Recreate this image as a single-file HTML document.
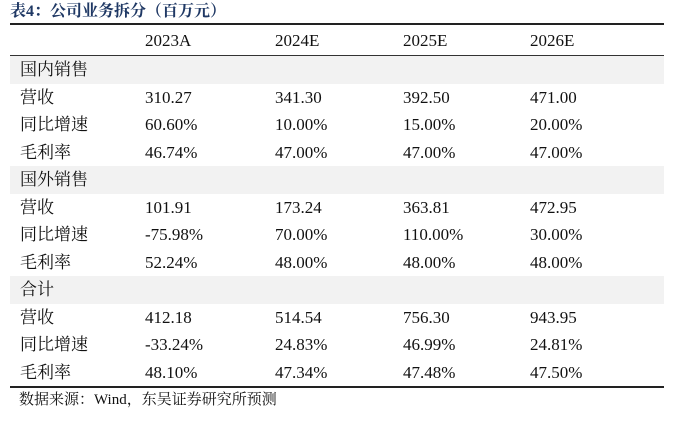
<!DOCTYPE html>
<html><head><meta charset="utf-8"><style>
body{margin:0;width:674px;height:422px;background:#fff;position:relative;font-family:"Liberation Serif","Noto Serif CJK SC",serif;color:#111;overflow:hidden}
.title{position:absolute;left:10px;top:-2px;font-size:16px;font-weight:bold;color:#1f3864;font-family:"Liberation Serif","Noto Serif CJK SC",serif}
.tbl{position:absolute;left:10px;top:23px;width:654px;border-top:2px solid #222;border-bottom:2px solid #222}
.row{height:27.5px;position:relative;font-size:17px;line-height:27.5px}
.row.head{height:30px;line-height:31px;border-bottom:1px solid #333}
.row.sec{background:#f2f2f2}
.row span{position:absolute;top:0;white-space:nowrap}
.c0{left:10px}.c1{left:135px}.c2{left:265px}.c3{left:393px}.c4{left:520px}
.src{position:absolute;left:19px;top:388px;font-size:15px}
</style></head><body>
<div class="title">表4：公司业务拆分（百万元）</div>
<div class="tbl">
<div class="row head"><span class="c1">2023A</span><span class="c2">2024E</span><span class="c3">2025E</span><span class="c4">2026E</span></div>
<div class="row sec"><span class="c0">国内销售</span></div>
<div class="row"><span class="c0">营收</span><span class="c1">310.27</span><span class="c2">341.30</span><span class="c3">392.50</span><span class="c4">471.00</span></div>
<div class="row"><span class="c0">同比增速</span><span class="c1">60.60%</span><span class="c2">10.00%</span><span class="c3">15.00%</span><span class="c4">20.00%</span></div>
<div class="row"><span class="c0">毛利率</span><span class="c1">46.74%</span><span class="c2">47.00%</span><span class="c3">47.00%</span><span class="c4">47.00%</span></div>
<div class="row sec"><span class="c0">国外销售</span></div>
<div class="row"><span class="c0">营收</span><span class="c1">101.91</span><span class="c2">173.24</span><span class="c3">363.81</span><span class="c4">472.95</span></div>
<div class="row"><span class="c0">同比增速</span><span class="c1">-75.98%</span><span class="c2">70.00%</span><span class="c3">110.00%</span><span class="c4">30.00%</span></div>
<div class="row"><span class="c0">毛利率</span><span class="c1">52.24%</span><span class="c2">48.00%</span><span class="c3">48.00%</span><span class="c4">48.00%</span></div>
<div class="row sec"><span class="c0">合计</span></div>
<div class="row"><span class="c0">营收</span><span class="c1">412.18</span><span class="c2">514.54</span><span class="c3">756.30</span><span class="c4">943.95</span></div>
<div class="row"><span class="c0">同比增速</span><span class="c1">-33.24%</span><span class="c2">24.83%</span><span class="c3">46.99%</span><span class="c4">24.81%</span></div>
<div class="row"><span class="c0">毛利率</span><span class="c1">48.10%</span><span class="c2">47.34%</span><span class="c3">47.48%</span><span class="c4">47.50%</span></div>
</div>
<div class="src">数据来源：Wind，东吴证券研究所预测</div>
</body></html>
